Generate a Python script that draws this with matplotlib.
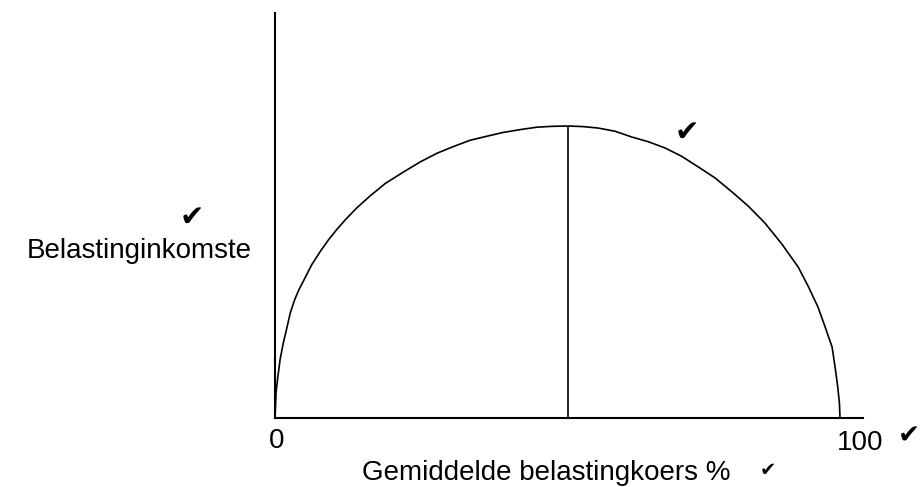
import matplotlib.pyplot as plt

# data: tax rate % vs tax revenue (peak = 100)
koers = [0, 0.2, 0.5, 0.9, 1.5, 2.0, 2.7, 3.5, 4.2, 5.0, 6.5, 8.0, 9.5, 11.0, 12.5, 14.5,
         16.8, 19.5, 22.7, 25.7, 28.7, 31.5, 34.5, 37.5, 40.4, 43.5, 46.4, 49.2, 51.9,
         54.5, 57.2, 60.2, 63.2, 66.1, 69.0, 72.0, 74.9, 77.9, 80.9, 83.8, 86.7, 89.7,
         92.6, 94.4, 96.1, 97.4, 98.6, 99.2, 99.6, 99.9, 100]
inkomste = [0, 9, 14, 20, 26, 30, 36, 40.6, 43.8, 46.8, 52.5, 57.0, 61.1, 64.7, 68.0, 72.0,
            76.0, 80.3, 84.2, 87.7, 90.7, 92.9, 95.1, 96.5, 97.8, 98.8, 99.6, 99.9, 100,
            99.8, 99.3, 98.2, 96.2, 94.6, 92.5, 89.6, 86.0, 82.2, 77.4, 72.5, 66.8, 59.6,
            51.7, 45.0, 38.0, 31.0, 24.3, 16.5, 10.6, 5, 0]
piek_x = 51.9
piek_y = 100

W, H = 921, 487
fam = ['Liberation Sans', 'DejaVu Sans']

fig = plt.figure(figsize=(W / 100, H / 100), dpi=100)
ax = fig.add_axes([275 / W, (H - 418) / H, (863 - 275) / W, (418 - 13) / H])

ax.plot(koers, inkomste, color='black', linewidth=1.2,
        solid_capstyle='round', solid_joinstyle='round')
ax.vlines(piek_x, 0, piek_y, color='black', linewidth=1.2)

ax.set_xlim(0, 104.07)
ax.set_ylim(0, 138.7)
for s in ['top', 'right']:
    ax.spines[s].set_visible(False)
for s in ['left', 'bottom']:
    ax.spines[s].set_linewidth(1.5)
ax.set_xticks([])
ax.set_yticks([])


def px(x, y):
    return x / W, 1 - y / H


# labels
fig.text(*px(252, 258), 'Belastinginkomste', ha='right', va='baseline', fontsize=20, family=fam)
fig.text(*px(192, 226), '✔', ha='center', va='baseline', fontsize=21, family=fam)
fig.text(*px(687, 141), '✔', ha='center', va='baseline', fontsize=21, family=fam)
fig.text(*px(276.5, 448), '0', ha='center', va='baseline', fontsize=20, family=fam)
fig.text(*px(837, 450), '100', ha='left', va='baseline', fontsize=20, family=fam)
fig.text(*px(909, 444), '✔', ha='center', va='baseline', fontsize=19, family=fam)
fig.text(*px(362, 480), 'Gemiddelde belastingkoers %', ha='left', va='baseline', fontsize=20, family=fam)
fig.text(*px(768, 476), '✔', ha='center', va='baseline', fontsize=14, family=fam)

plt.savefig('out.png', dpi=100)
